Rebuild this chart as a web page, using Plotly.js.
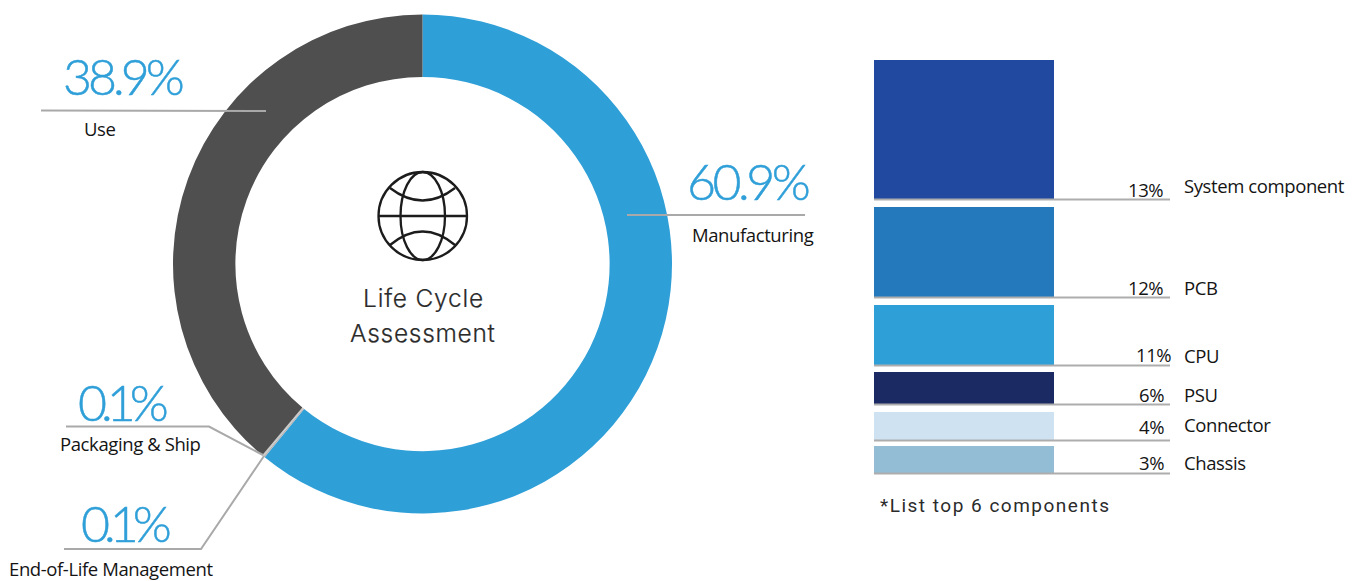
<!DOCTYPE html>
<html>
<head>
<meta charset="utf-8">
<script src="https://cdn.plot.ly/plotly-3.0.1.min.js"></script>
<style>
html,body{margin:0;padding:0;background:#fff}
#chart{width:1364px;height:581px}
</style>
</head>
<body>
<div id="chart"></div>
<script>
// Life-cycle shares
var stageNames = ['Manufacturing', 'End-of-Life Management', 'Packaging & Ship', 'Use'];
var stageValues = [60.9, 0.1, 0.1, 38.9];
var stageColors = ['#2f9fd8', '#b5b5b5', '#c9c9c9', '#4f4f4f'];

// Top components: bar heights as drawn, with their printed shares
var componentNames = ['System component', 'PCB', 'CPU', 'PSU', 'Connector', 'Chassis'];
var componentShares = ['13%', '12%', '11%', '6%', '4%', '3%'];
var componentHeights = [139, 90, 60, 32, 28, 27];
var componentGaps = [8, 8, 7, 8, 6, 0];
var componentColors = ['#2249a0', '#2478bc', '#2f9fd8', '#1b2a62', '#cfe2f2', '#92bdd4'];

var W = 1364, H = 581;
var stackTop = 60;

var traces = [{
  type: 'pie', labels: stageNames, values: stageValues, sort: false,
  direction: 'clockwise', rotation: 0, hole: 0.75, textinfo: 'none',
  marker: {colors: stageColors, line: {width: 0}},
  domain: {x: [173 / W, 672 / W], y: [1 - 513.5 / H, 1 - 14.5 / H]}
}];

var cursor = stackTop, bottoms = [];
componentNames.forEach(function (name, i) {
  traces.push({
    type: 'bar', x: ['Top components'], y: [componentHeights[i]], base: [cursor],
    name: name, marker: {color: componentColors[i], line: {width: 0}},
    xaxis: 'x', yaxis: 'y', hovertemplate: name + ' ' + componentShares[i] + '<extra></extra>'
  });
  cursor += componentHeights[i];
  bottoms.push(cursor);
  cursor += componentGaps[i];
});

var GREY = '#a9a9a9';
function seg(path, color, width) {
  return {type: 'path', path: path, xref: 'x2', yref: 'y2', layer: 'above',
          line: {color: color || GREY, width: width || 2}};
}
var shapes = [
  seg('M41,110.5 L266,111'),
  seg('M627,215 L805,215'),
  seg('M66,426.5 L209,426.5 L263,455'),
  seg('M64,549 L201,549 L264,456')
];
bottoms.forEach(function (b) {
  shapes.push(seg('M874,' + (b + 0.5) + ' L1170,' + (b + 0.5), '#adadad', 2));
});
// globe icon
var INK = '#1c1c1c';
shapes.push(
  {type: 'circle', xref: 'x2', yref: 'y2', x0: 378.5, x1: 467, y0: 172, y1: 260, line: {color: INK, width: 2.3}},
  {type: 'circle', xref: 'x2', yref: 'y2', x0: 400.5, x1: 445, y0: 172, y1: 260, line: {color: INK, width: 2.3}},
  seg('M378.5,216 L467,216', INK, 2.3),
  seg('M390,188 Q422.7,213 455,188', INK, 2.3),
  seg('M390,245 Q422.7,218 455,245', INK, 2.3)
);

function spaced(text, px, extra) {
  return '<span style="letter-spacing:' + px + 'px' + (extra ? ';' + extra : '') + '">' + text + '</span>';
}
function big(text, px) { return spaced(text, px, 'stroke:#2f9fd8;stroke-width:0.5px'); }
function lab(text) { return spaced(text.replace('&', '&amp;'), -0.4); }

var BIG = {family: 'Lato, "Open Sans", sans-serif', size: 50, color: '#2f9fd8', weight: 300};
var LAB = {family: '"Open Sans", sans-serif', size: 18.5, color: '#141414'};
function note(text, x, y, font, anchor) {
  return {text: text, x: x, y: y, xref: 'x2', yref: 'y2', showarrow: false,
          xanchor: anchor || 'center', yanchor: 'middle', font: font, borderpad: 0};
}
var CENTER = {family: 'Inter, sans-serif', size: 24.5, color: '#2b2b2b', weight: 300};
var CENTER_INK = 'stroke:#2b2b2b;stroke-width:0.2px';
var annotations = [
  note(big('38.9%', -4), 123, 76, BIG),
  note(big('60.9%', -3.5), 748, 181, BIG),
  note(big('0.1%', -6), 122, 402, BIG),
  note(big('0.1%', -6), 125, 523, BIG),
  note(lab(stageNames[3]), 100, 128, LAB),
  note(lab(stageNames[0]), 753, 234, LAB),
  note(lab(stageNames[2]), 130, 443, LAB),
  note(lab(stageNames[1]), 111, 568, LAB),
  note(spaced('Life Cycle', 0.8, CENTER_INK), 423, 298, CENTER),
  note(spaced('Assessment', 0.7, CENTER_INK), 423, 333, CENTER),
  note(spaced('*List top 6 components', 1.5), 879, 505,
       {family: 'Roboto, sans-serif', size: 19, color: '#2b2b2b'}, 'left')
];
var pctRight = [1164, 1164, 1172, 1165, 1165, 1165];
var pctY = [189, 287, 354, 394, 426.5, 462];
var nameY = [185, 287, 355, 394, 424, 462];
componentNames.forEach(function (name, i) {
  annotations.push(note(lab(componentShares[i]), pctRight[i], pctY[i], LAB, 'right'));
  annotations.push(note(lab(name), 1183, nameY[i], LAB, 'left'));
});

var layout = {
  width: W, height: H, margin: {l: 0, r: 0, t: 0, b: 0, pad: 0},
  paper_bgcolor: '#fff', plot_bgcolor: 'rgba(0,0,0,0)', showlegend: false,
  barmode: 'overlay', bargap: 0,
  xaxis: {domain: [874 / W, 1054 / W], type: 'category', visible: false, fixedrange: true},
  yaxis: {domain: [0, 1], range: [H, 0], visible: false, fixedrange: true},
  xaxis2: {domain: [0, 1], range: [0, W], visible: false, anchor: 'y2', fixedrange: true},
  yaxis2: {domain: [0, 1], range: [H, 0], visible: false, anchor: 'x2', overlaying: 'y', fixedrange: true},
  shapes: shapes, annotations: annotations
};
Plotly.newPlot('chart', traces, layout, {displayModeBar: false, staticPlot: true});
</script>
</body>
</html>
